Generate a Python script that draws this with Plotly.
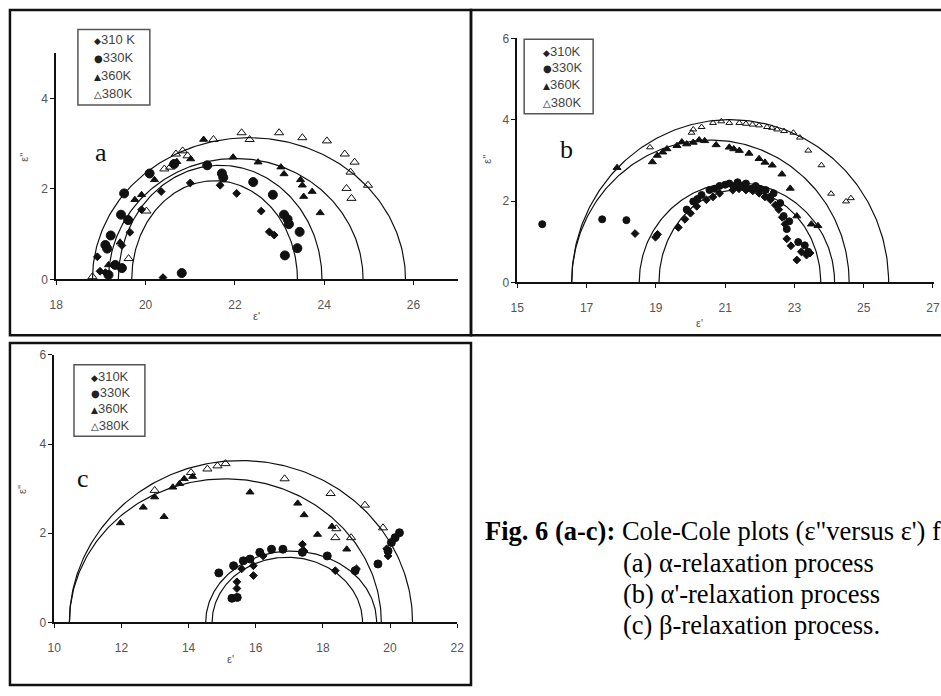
import numpy as np
import plotly.graph_objects as go

W, H = 941, 696

# ---------------- series labels ----------------
temps = ["310K", "330K", "360K", "380K"]
temps_a = ["310 K", "330K", "360K", "380K"]
symbols = ["diamond", "circle", "triangle-up", "triangle-up-open"]
key_glyphs = ["◆", "●", "▲", "△"]

# ---------------- panel (a): alpha relaxation ----------------
a310_x = [18.92, 18.98, 19.10, 19.47, 19.65, 19.91, 20.35, 21.00, 21.67, 22.04, 22.59, 22.77, 22.88, 20.39]
a310_y = [0.50, 0.18, 0.15, 0.75, 1.04, 1.54, 1.94, 2.13, 2.08, 1.90, 1.51, 1.05, 0.98, 0.04]
a330_x = [19.10, 19.14, 19.17, 19.22, 19.32, 19.47, 19.45, 19.52, 19.61, 20.09, 20.64, 20.81, 21.38, 21.71,
          21.74, 22.41, 22.85, 23.10, 23.18, 23.21, 23.45, 23.40, 23.12]
a330_y = [0.76, 0.68, 0.10, 0.97, 0.32, 0.25, 1.43, 1.90, 1.31, 2.34, 2.55, 0.14, 2.52, 2.34,
          2.25, 2.15, 1.87, 1.43, 1.33, 1.22, 1.05, 0.69, 0.53]
a360_x = [19.17, 19.43, 19.76, 19.91, 20.20, 20.61, 20.70, 21.01, 21.30, 21.96, 22.52, 23.03, 23.10, 23.47,
          23.51, 23.54, 23.73, 23.91]
a360_y = [0.32, 0.82, 1.76, 1.87, 2.20, 2.55, 2.60, 2.66, 3.09, 2.70, 2.59, 2.48, 2.33, 2.20,
          2.08, 1.83, 1.94, 1.47]
a380_x = [18.81, 19.62, 20.02, 20.42, 20.55, 20.68, 20.83, 20.94, 21.52, 22.15, 22.33, 22.99, 23.51, 24.06,
          24.46, 24.68, 24.59, 24.50, 24.61, 24.98]
a380_y = [0.06, 0.46, 1.51, 2.44, 2.48, 2.77, 2.84, 2.73, 3.09, 3.24, 3.09, 3.24, 3.13, 3.06,
          2.77, 2.59, 2.37, 2.01, 1.79, 2.08]
# fitted arcs: high-frequency / low-frequency intercepts and arc height
a_arc_left = [19.69, 19.39, 19.17, 18.81]
a_arc_right = [23.40, 23.95, 24.87, 25.82]
a_arc_top = [2.18, 2.52, 2.67, 3.13]

# ---------------- panel (b): alpha' relaxation ----------------
b310_x = [18.40, 18.99, 19.05, 19.65, 19.84, 20.00, 20.18, 20.46, 20.65, 20.84, 21.22, 21.40, 21.60, 21.80,
          21.98, 22.15, 22.31, 22.45, 22.55, 22.65, 22.73, 22.78, 22.90, 23.07, 23.20, 23.35, 23.45]
b310_y = [1.20, 1.11, 1.18, 1.35, 1.55, 1.70, 1.87, 2.03, 2.10, 2.19, 2.27, 2.30, 2.27, 2.25,
          2.19, 2.10, 2.03, 1.90, 1.79, 1.60, 1.43, 1.07, 0.90, 0.55, 0.75, 0.67, 0.72]
b330_x = [15.72, 17.45, 18.15, 19.89, 20.08, 20.20, 20.32, 20.55, 20.70, 20.84, 21.00, 21.12, 21.25, 21.36,
          21.50, 21.60, 21.75, 21.88, 22.00, 22.17, 22.30, 22.40, 22.59, 22.69, 22.78, 22.85, 23.11, 23.30, 23.40]
b330_y = [1.43, 1.55, 1.53, 1.79, 1.99, 2.05, 2.15, 2.27, 2.30, 2.37, 2.40, 2.43, 2.35, 2.46,
          2.38, 2.43, 2.30, 2.37, 2.30, 2.27, 2.10, 2.19, 1.95, 1.63, 1.31, 1.50, 0.99, 0.91, 0.75]
b360_x = [17.88, 18.90, 19.04, 19.20, 19.32, 19.61, 19.75, 19.89, 20.08, 20.25, 20.41, 20.74, 21.12, 21.25,
          21.41, 21.69, 21.98, 22.15, 22.36, 22.64, 22.88, 23.07, 23.49, 23.68]
b360_y = [2.82, 2.96, 3.12, 3.20, 3.28, 3.36, 3.45, 3.40, 3.44, 3.50, 3.48, 3.38, 3.32, 3.28,
          3.24, 3.17, 3.04, 2.95, 2.88, 2.66, 2.31, 1.63, 1.43, 1.39]
b380_x = [18.83, 20.03, 20.08, 20.32, 20.65, 20.89, 21.12, 21.41, 21.60, 21.79, 21.98, 22.21, 22.35, 22.50,
          22.70, 22.97, 23.16, 23.40, 23.78, 24.06, 24.49, 24.63]
b380_y = [3.32, 3.68, 3.76, 3.82, 3.92, 3.96, 3.92, 3.92, 3.90, 3.88, 3.86, 3.82, 3.80, 3.76,
          3.72, 3.68, 3.56, 3.24, 2.88, 2.18, 1.99, 2.07]
b_arc_left = [19.09, 18.52, 16.57, 16.57]
b_arc_right = [23.76, 24.16, 24.58, 25.72]
b_arc_top = [2.28, 2.45, 3.50, 4.00]

# ---------------- panel (c): beta relaxation ----------------
c310_x = [15.44, 15.44, 15.58, 15.93, 15.93, 16.22, 17.39, 17.44, 18.37, 19.00, 19.94, 19.90]
c310_y = [0.76, 0.91, 1.20, 1.05, 1.27, 1.49, 1.75, 1.60, 1.16, 1.20, 1.49, 1.65]
c330_x = [14.90, 15.29, 15.45, 15.34, 15.63, 15.83, 16.12, 16.47, 16.81, 17.39, 18.13, 18.96, 19.64,
          19.94, 20.04, 20.15, 20.28]
c330_y = [1.11, 0.54, 0.56, 1.27, 1.38, 1.42, 1.57, 1.64, 1.64, 1.57, 1.49, 1.16, 1.31,
          1.60, 1.79, 1.90, 2.01]
c360_x = [11.97, 12.65, 12.99, 13.27, 13.53, 13.73, 13.87, 14.12, 15.83, 17.25, 17.44, 17.84, 18.27, 18.71]
c360_y = [2.23, 2.58, 2.81, 2.37, 3.03, 3.11, 3.22, 3.27, 2.92, 2.67, 2.41, 1.97, 2.15, 1.64]
c380_x = [12.99, 14.07, 14.56, 14.86, 15.10, 16.86, 18.23, 19.25, 19.79, 18.84, 18.37, 18.40]
c380_y = [2.96, 3.36, 3.44, 3.51, 3.56, 3.22, 2.89, 2.63, 2.12, 1.90, 1.90, 2.10]
c_arc_left = [14.70, 14.51, 10.45, 10.45]
c_arc_right = [19.18, 19.60, 19.74, 20.67]
c_arc_top = [1.46, 1.60, 3.22, 3.63]


def px(x):
    return x / W


def py(y):
    return 1 - y / H


def note(text, x, y, font, xanchor="center", **kw):
    return dict(text=text, x=px(x), y=py(y), xref="paper", yref="paper", showarrow=False,
                xanchor=xanchor, yanchor="middle", font=font, **kw)


panels = [
    dict(xs=[a310_x, a330_x, a360_x, a380_x], ys=[a310_y, a330_y, a360_y, a380_y],
         arcs=(a_arc_left, a_arc_right, a_arc_top), names=temps_a, axis="",
         sizes=[6, 9, 7, 8],
         key=dict(box=(72, 23, 145, 100), left=86, rows=[33, 52, 70, 88])),
    dict(xs=[b310_x, b330_x, b360_x, b380_x], ys=[b310_y, b330_y, b360_y, b380_y],
         arcs=(b_arc_left, b_arc_right, b_arc_top), names=temps, axis="2",
         sizes=[6, 7, 7, 6],
         key=dict(box=(525, 33, 595, 109), left=542, rows=[45, 62, 79, 97])),
    dict(xs=[c310_x, c330_x, c360_x, c380_x], ys=[c310_y, c330_y, c360_y, c380_y],
         arcs=(c_arc_left, c_arc_right, c_arc_top), names=temps, axis="3",
         sizes=[6, 8, 7, 8],
         key=dict(box=(68, 365, 140, 438), left=83, rows=[377, 393, 410, 427])),
]

fig = go.Figure()
t = np.linspace(0, np.pi, 181)
for p in panels:
    xa, ya = "x" + p["axis"], "y" + p["axis"]
    left, right, top = p["arcs"]
    for l, r, h in zip(left, right, top):
        c, w = (l + r) / 2, (r - l) / 2
        fig.add_trace(go.Scatter(x=c - w * np.cos(t), y=h * np.sin(t), mode="lines",
                                 line=dict(color="#111", width=1.2), xaxis=xa, yaxis=ya,
                                 showlegend=False, hoverinfo="skip"))
    for xs, ys, name, sym, sz in zip(p["xs"], p["ys"], p["names"], symbols, p["sizes"]):
        fig.add_trace(go.Scatter(x=xs, y=ys, mode="markers", name=name, xaxis=xa, yaxis=ya,
                                 showlegend=False,
                                 marker=dict(symbol=sym, size=sz, color="#111",
                                             line=dict(color="#111", width=1))))

axis_common = dict(showline=True, linecolor="#111", linewidth=1.6, ticks="outside", ticklen=4,
                   tickcolor="#111", tickwidth=1.2, showgrid=False, zeroline=False, dtick=2,
                   tickfont=dict(family="Liberation Sans", size=12, color="#555"), fixedrange=True)

# pixel boxes of the three plotting areas: (x0, x1, ybottom, ytop)
boxes = {"": (50, 458, 278, 47), "2": (518, 941, 281, 32), "3": (48, 457, 628, 355)}
ranges = {"": ([18, 27], [0, 5]), "2": ([15, 27.03], [0, 6]), "3": ([10, 22], [0, 6])}
layout_axes = {}
for k, (x0, x1, yb, yt) in boxes.items():
    xr, yr = ranges[k]
    layout_axes["xaxis" + k] = dict(axis_common, domain=[px(x0), px(x1)], range=xr,
                                    anchor="y" + k, tick0=xr[0], ticklabelstandoff=9)
    layout_axes["yaxis" + k] = dict(axis_common, domain=[py(yb), py(yt)], range=yr,
                                    anchor="x" + k, tick0=0, ticklabelstandoff=0)

shapes = []
for (x0, y0, x1, y1) in [(3, 3, 471, 335), (471, 3, 950, 335), (3, 343, 471, 692)]:
    shapes.append(dict(type="rect", xref="paper", yref="paper", x0=px(x0), x1=px(x1),
                       y0=py(y1), y1=py(y0), line=dict(color="#111", width=2.5)))

ann = []
# boxed series keys inside each panel
key_font = dict(family="Liberation Sans", size=13, color="#444")
glyph_sizes = [9, 10, 9, 10]
for p in panels:
    k = p["key"]
    x0, y0, x1, y1 = k["box"]
    shapes.append(dict(type="rect", xref="paper", yref="paper", x0=px(x0), x1=px(x1),
                       y0=py(y1), y1=py(y0), line=dict(color="#555", width=1.5),
                       fillcolor="white", layer="below"))
    for name, glyph, gs, ry in zip(p["names"], key_glyphs, glyph_sizes, k["rows"]):
        label = (f"<span style='font-family:DejaVu Sans;font-size:{gs}px;color:#222'>{glyph}</span>"
                 f"{name}")
        ann.append(note(label, k["left"], ry, key_font, xanchor="left"))

# panel letters
letter_font = dict(family="Liberation Serif", size=26, color="#111")
for txt, x, y in [("a", 95, 148), ("b", 568, 145), ("c", 77, 481)]:
    ann.append(note(txt, x, y, letter_font))
# axis titles
title_font = dict(family="Liberation Sans", size=11, color="#555")
for x, y in [(253, 315), (703, 322), (227, 665)]:
    ann.append(note("ε'", x, y, title_font))
for x, y in [(17, 153), (487, 155), (15, 492)]:
    ann.append(note("ε''", x, y, title_font, textangle=-90))

# figure caption
cap_font = dict(family="Liberation Serif", size=26.5, color="black")
ann.append(note("<b>Fig. 6 (a-c):</b> Cole-Cole plots (ε\"versus ε') for", 483, 535, cap_font,
                xanchor="left"))
for txt, y in [("(a) α-relaxation process", 567), ("(b) α'-relaxation process", 599),
               ("(c) β-relaxation process.", 631)]:
    ann.append(note(txt, 623, y, cap_font, xanchor="left"))

fig.update_layout(
    width=W, height=H, margin=dict(l=0, r=0, t=0, b=0),
    paper_bgcolor="white", plot_bgcolor="rgba(0,0,0,0)", showlegend=False,
    shapes=shapes, annotations=ann, **layout_axes,
)

fig.write_html("out.html")
